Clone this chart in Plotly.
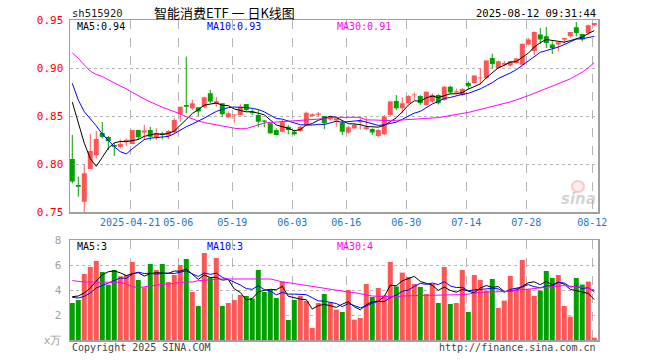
import plotly.graph_objects as go

W, H = 660, 360

# ---------------- data ----------------
tick_labels = ["2025-04-21", "05-06", "05-19", "06-03", "06-16", "06-30", "07-14", "07-28", "08-12"]
tick_index = [10, 18, 27, 37, 46, 56, 66, 76, 87]

open_ = [0.8056, 0.7785, 0.7611, 0.7951, 0.8094, 0.8326, 0.8285, 0.8201, 0.8181, 0.8240,
         0.8212, 0.8358, 0.8330, 0.8358, 0.8281, 0.8323, 0.8299, 0.8333, 0.8524, 0.8618,
         0.8583, 0.8594, 0.8594, 0.8740, 0.8628, 0.8635, 0.8490, 0.8510, 0.8514, 0.8628,
         0.8549, 0.8514, 0.8455, 0.8427, 0.8358, 0.8340, 0.8392, 0.8340, 0.8347, 0.8410,
         0.8503, 0.8517, 0.8503, 0.8469, 0.8455, 0.8434, 0.8330, 0.8375, 0.8438, 0.8365,
         0.8368, 0.8295, 0.8313, 0.8514, 0.8660, 0.8583, 0.8635, 0.8719, 0.8712, 0.8618,
         0.8653, 0.8722, 0.8670, 0.8809, 0.8747, 0.8722, 0.8847, 0.8847, 0.8896, 0.8899,
         0.9108, 0.9003, 0.9038, 0.9028, 0.9056, 0.9038, 0.9247, 0.9180, 0.9351, 0.9333,
         0.9247, 0.9247, 0.9299, 0.9333, 0.9427, 0.9358, 0.9368, 0.9448]
high = [0.8306, 0.7872, 0.7997, 0.8316, 0.8347, 0.8441, 0.8295, 0.8219, 0.8260, 0.8265,
        0.8360, 0.8358, 0.8410, 0.8390, 0.8375, 0.8340, 0.8358, 0.8480, 0.8600, 0.9122,
        0.8670, 0.8594, 0.8705, 0.8774, 0.8700, 0.8635, 0.8550, 0.8520, 0.8625, 0.8628,
        0.8573, 0.8566, 0.8462, 0.8427, 0.8375, 0.8462, 0.8410, 0.8358, 0.8400, 0.8549,
        0.8531, 0.8545, 0.8503, 0.8503, 0.8490, 0.8462, 0.8400, 0.8427, 0.8490, 0.8490,
        0.8375, 0.8365, 0.8514, 0.8660, 0.8722, 0.8698, 0.8722, 0.8747, 0.8722, 0.8760,
        0.8740, 0.8730, 0.8815, 0.8820, 0.8790, 0.8795, 0.8865, 0.8924, 0.9003, 0.9080,
        0.9150, 0.9080, 0.9080, 0.9073, 0.9108, 0.9257, 0.9316, 0.9385, 0.9420, 0.9430,
        0.9281, 0.9271, 0.9316, 0.9378, 0.9483, 0.9358, 0.9455, 0.9472]
low = [0.7802, 0.7663, 0.7497, 0.7951, 0.8063, 0.8271, 0.8149, 0.8087, 0.8167, 0.8190,
       0.8210, 0.8253, 0.8253, 0.8247, 0.8253, 0.8260, 0.8260, 0.8320, 0.8444, 0.8531,
       0.8566, 0.8503, 0.8583, 0.8635, 0.8600, 0.8497, 0.8480, 0.8434, 0.8507, 0.8549,
       0.8514, 0.8385, 0.8385, 0.8316, 0.8300, 0.8330, 0.8313, 0.8300, 0.8340, 0.8410,
       0.8497, 0.8503, 0.8365, 0.8455, 0.8392, 0.8306, 0.8316, 0.8365, 0.8358, 0.8358,
       0.8306, 0.8281, 0.8306, 0.8503, 0.8566, 0.8531, 0.8628, 0.8670, 0.8618, 0.8610,
       0.8640, 0.8625, 0.8660, 0.8730, 0.8730, 0.8710, 0.8778, 0.8840, 0.8830, 0.8889,
       0.8997, 0.8993, 0.9020, 0.9020, 0.9049, 0.9031, 0.9240, 0.9135, 0.9253, 0.9212,
       0.9150, 0.9177, 0.9247, 0.9320, 0.9333, 0.9281, 0.9350, 0.9437]
close = [0.7820, 0.7767, 0.7906, 0.8139, 0.8264, 0.8285, 0.8243, 0.8184, 0.8212, 0.8255,
         0.8358, 0.8281, 0.8351, 0.8288, 0.8323, 0.8306, 0.8347, 0.8462, 0.8600, 0.8600,
         0.8635, 0.8549, 0.8698, 0.8653, 0.8656, 0.8521, 0.8531, 0.8520, 0.8594, 0.8566,
         0.8531, 0.8444, 0.8444, 0.8323, 0.8306, 0.8444, 0.8358, 0.8313, 0.8392, 0.8538,
         0.8521, 0.8528, 0.8427, 0.8486, 0.8479, 0.8340, 0.8385, 0.8410, 0.8451, 0.8385,
         0.8330, 0.8358, 0.8497, 0.8653, 0.8583, 0.8635, 0.8712, 0.8726, 0.8635, 0.8757,
         0.8722, 0.8635, 0.8809, 0.8747, 0.8760, 0.8785, 0.8813, 0.8924, 0.8903, 0.9080,
         0.9045, 0.9073, 0.9056, 0.9073, 0.9101, 0.9257, 0.9299, 0.9378, 0.9299, 0.9264,
         0.9212, 0.9271, 0.9316, 0.9378, 0.9368, 0.9299, 0.9448, 0.9472]

volume = [2.96, 3.20, 5.28, 5.84, 6.32, 5.44, 4.42, 5.60, 5.10, 5.20,
          6.24, 4.80, 4.21, 6.08, 5.60, 6.08, 4.64, 5.20, 6.00, 6.48,
          3.84, 2.72, 6.96, 5.01, 6.56, 2.72, 2.96, 3.20, 3.60, 3.52,
          3.31, 5.60, 3.84, 4.00, 3.36, 4.69, 1.60, 3.20, 3.52, 3.12,
          0.96, 2.96, 3.68, 3.01, 2.43, 2.24, 4.00, 1.63, 1.76, 4.48,
          3.44, 4.16, 3.57, 6.24, 4.29, 5.39, 5.04, 4.48, 4.24, 3.68,
          4.48, 2.96, 5.84, 2.88, 2.96, 5.60, 2.24, 5.20, 4.80, 3.95,
          4.88, 2.56, 3.15, 5.12, 4.16, 6.40, 4.08, 3.52, 3.95, 5.52,
          4.96, 5.20, 2.72, 1.87, 4.96, 4.43, 4.67, 0.19]

# moving-average values at the start of the window (earlier history is not shown)
ma5_head = [0.8648, 0.8430, 0.8220, 0.8060]
ma10_head = [0.8844, 0.8670, 0.8549, 0.8479, 0.8400, 0.8316, 0.8247, 0.8184, 0.8132]
ma30 = [0.9160, 0.9104, 0.9035, 0.8970, 0.8935, 0.8915, 0.8880, 0.8850, 0.8820, 0.8785,
        0.8750, 0.8712, 0.8680, 0.8650, 0.8620, 0.8595, 0.8572, 0.8550, 0.8524, 0.8497,
        0.8472, 0.8451, 0.8434, 0.8424, 0.8413, 0.8400, 0.8388, 0.8376, 0.8370, 0.8372,
        0.8390, 0.8410, 0.8430, 0.8436, 0.8440, 0.8443, 0.8446, 0.8451, 0.8455, 0.8460,
        0.8464, 0.8470, 0.8475, 0.8488, 0.8490, 0.8490, 0.8490, 0.8490, 0.8488, 0.8462,
        0.8462, 0.8458, 0.8458, 0.8455, 0.8458, 0.8462, 0.8465, 0.8469, 0.8472, 0.8476,
        0.8479, 0.8486, 0.8497, 0.8510, 0.8520, 0.8530, 0.8540, 0.8555, 0.8570, 0.8585,
        0.8600, 0.8615, 0.8630, 0.8650, 0.8670, 0.8690, 0.8715, 0.8740, 0.8765, 0.8790,
        0.8815, 0.8840, 0.8865, 0.8890, 0.8925, 0.8960, 0.9005, 0.9060]
vma5_head = [3.47, 3.52, 3.76, 4.16]
vma10_head = [3.41, 3.36, 3.49, 3.76, 4.16, 4.37, 4.56, 4.75, 4.96]
vma30 = [4.75, 4.67, 4.64, 4.64, 4.64, 4.64, 4.61, 4.59, 4.61, 4.48,
         4.27, 4.19, 4.27, 4.35, 4.43, 4.45, 4.48, 4.51, 4.59, 4.64,
         4.64, 4.75, 4.80, 4.83, 4.85, 4.88, 4.88, 4.88, 4.88, 4.88,
         4.88, 4.88, 4.88, 4.88, 4.77, 4.64, 4.59, 4.51, 4.43, 4.37,
         4.29, 4.21, 4.13, 4.05, 3.97, 3.89, 3.84, 3.79, 3.71, 3.57,
         3.52, 3.49, 3.47, 3.44, 3.47, 3.52, 3.55, 3.57, 3.57, 3.57,
         3.57, 3.57, 3.57, 3.60, 3.60, 3.63, 3.68, 3.76, 3.81, 3.84,
         3.84, 3.84, 3.87, 3.92, 3.97, 4.03, 4.08, 4.13, 4.21, 4.27,
         4.29, 4.32, 4.35, 4.32, 4.27, 4.21, 4.13, 4.00]

# ---------------- helpers ----------------
def sma(vals, w, head):
    out = list(head)
    for i in range(len(head), len(vals)):
        out.append(sum(vals[i - w + 1:i + 1]) / w)
    return out

n = len(close)
idx = list(range(n))
ma5 = sma(close, 5, ma5_head)
ma10 = sma(close, 10, ma10_head)
vma5 = sma(volume, 5, vma5_head)
vma10 = sma(volume, 10, vma10_head)

RED = "#ff5555"
GREEN = "#00a000"
GRID = "#b4b4b4"
BORDER = "#a0a0a0"
MONO = "DejaVu Sans Mono, Liberation Mono, monospace"

up = [c >= o for o, c in zip(open_, close)]

fig = go.Figure()

# wicks
for flag, col in ((True, RED), (False, GREEN)):
    xs, ys = [], []
    for i in idx:
        if up[i] == flag:
            xs += [i, i, None]
            ys += [low[i], high[i], None]
    fig.add_trace(go.Scatter(x=xs, y=ys, mode="lines", line=dict(color=col, width=1),
                             hoverinfo="skip", xaxis="x", yaxis="y"))

# bodies
for flag, col in ((True, RED), (False, GREEN)):
    xs = [i for i in idx if up[i] == flag]
    base = [min(open_[i], close[i]) for i in xs]
    hgt = [max(abs(close[i] - open_[i]), 0.0009) for i in xs]
    fig.add_trace(go.Bar(x=xs, y=hgt, base=base, width=0.83, marker=dict(color=col, line=dict(width=0)),
                         xaxis="x", yaxis="y"))

# price MAs
for arr, col in ((ma5, "#000000"), (ma10, "#0000ff"), (ma30, "#ff00ff")):
    fig.add_trace(go.Scatter(x=idx, y=arr, mode="lines", line=dict(color=col, width=1),
                             xaxis="x", yaxis="y"))

# volume bars
fig.add_trace(go.Bar(x=idx, y=volume, width=0.83,
                     marker=dict(color=[RED if u else GREEN for u in up], line=dict(width=0)),
                     xaxis="x2", yaxis="y2"))
for arr, col in ((vma5, "#000000"), (vma10, "#0000ff"), (vma30, "#ff00ff")):
    fig.add_trace(go.Scatter(x=idx, y=arr, mode="lines", line=dict(color=col, width=1),
                             xaxis="x2", yaxis="y2"))

def px_x(x):
    return x / W

def px_y(y):
    return 1 - y / H

xdom = [px_x(70), px_x(598)]
xr = [-0.38, n - 1 + 0.62]
tickpos = [t - 0.35 for t in tick_index]

common_x = dict(domain=xdom, range=xr, tickmode="array", tickvals=tickpos, showgrid=True,
                gridcolor=GRID, griddash="dash", gridwidth=1, zeroline=False, showline=True,
                mirror=True, linecolor=BORDER, linewidth=1.5, ticks="", automargin=False)

fig.update_layout(
    width=W, height=H, margin=dict(l=0, r=0, t=0, b=0, autoexpand=False),
    paper_bgcolor="white", plot_bgcolor="white", showlegend=False,
    barmode="overlay", hovermode=False,
    xaxis=dict(common_x, anchor="y", ticktext=tick_labels,
               tickfont=dict(family=MONO, size=10, color="#1a78c8")),
    xaxis2=dict(common_x, anchor="y2", matches="x", showticklabels=False),
    yaxis=dict(domain=[px_y(212.3), px_y(20.3)], range=[0.75, 0.95], tickmode="array",
               tickvals=[0.75, 0.80, 0.85, 0.90, 0.95],
               ticktext=["0.75", "0.80", "0.85", "0.90", "0.95"],
               tickfont=dict(family=MONO, size=11, color="#ff0000"),
               showgrid=True, gridcolor=GRID, griddash="dot", zeroline=False,
               showline=True, mirror=True, linecolor=BORDER, linewidth=1.5, ticks="",
               ticklabelstandoff=3, automargin=False),
    yaxis2=dict(domain=[px_y(340), px_y(240)], range=[0, 8], tickmode="array",
                tickvals=[0, 2, 4, 6, 8], ticktext=["x万", "2", "4", "6", "8"],
                tickfont=dict(family=MONO, size=11, color="#a0a0a0"),
                showgrid=True, gridcolor=GRID, griddash="dot", zeroline=False,
                showline=True, mirror=True, linecolor=BORDER, linewidth=1.5, ticks="",
                ticklabelstandoff=5, automargin=False),
)

def note(text, x, y, color="#000000", size=10, anchor="left", family=MONO):
    fig.add_annotation(text=text, x=px_x(x), y=px_y(y), xref="paper", yref="paper",
                       xanchor=anchor, yanchor="middle", showarrow=False,
                       font=dict(family=family, size=size, color=color))

note("sh515920", 70, 13, "#222222", 10.5)
note("智能消费ETF 一 日K线图", 224, 13, "#000000", 13, "center",
     "Noto Sans CJK SC, sans-serif")
note("2025-08-12 09:31:44", 598, 13, "#000000", 10.5, "right")
note("MA5:0.94", 75, 27, "#000000")
note("MA10:0.93", 205, 27, "#0000ff")
note("MA30:0.91", 335, 27, "#ff00ff")
note("MA5:3", 75, 246, "#000000")
note("MA10:3", 205, 246, "#0000ff")
note("MA30:4", 335, 246, "#ff00ff")
note("Copyright 2025 SINA.COM", 70, 347, "#444444")
note("http://finance.sina.com.cn", 598, 347, "#444444", 10, "right")
note("<b><i>sina</i></b>", 578, 199, "rgba(175,175,175,0.55)", 15, "center", "DejaVu Sans, sans-serif")

# faint logo eye above the watermark text
fig.add_shape(type="circle", xref="paper", yref="paper",
              x0=px_x(572), x1=px_x(584), y0=px_y(192), y1=px_y(181),
              line=dict(color="rgba(255,110,110,0.35)", width=2),
              fillcolor="rgba(255,170,170,0.2)")

fig.write_html("out.html", config={"displayModeBar": False, "staticPlot": True},
               post_script="document.body.style.margin='0px';")
